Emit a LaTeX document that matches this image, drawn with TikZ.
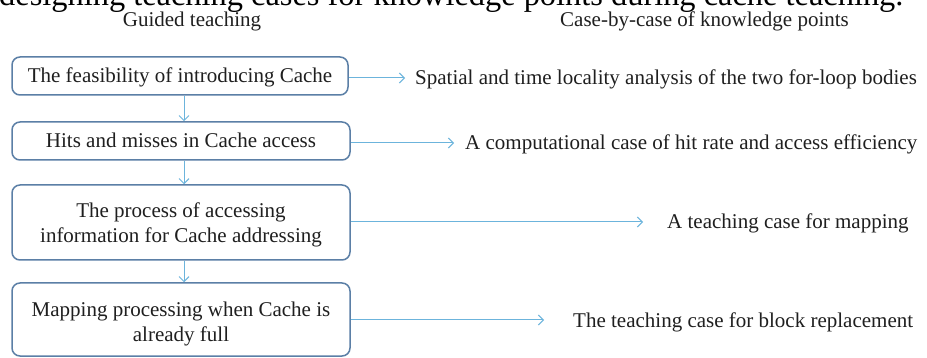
\documentclass[tikz,border=0pt]{standalone}
\usepackage{fontspec}
\setmainfont{Liberation Serif}
\usetikzlibrary{arrows.meta}
\definecolor{boxline}{HTML}{5B7FA6}
\definecolor{arrowline}{HTML}{6CB4DC}
\definecolor{txt}{HTML}{1F1F1F}

\begin{document}
\begin{tikzpicture}[x=1pt,y=-1pt,
  body/.style={font=\fontsize{21}{25}\selectfont, text=txt},
  stepbox/.style={body, draw=boxline, line width=1.5pt, rounded corners=8pt,
    inner sep=0pt, align=center, text depth=0pt},
  casetext/.style={body, anchor=west, inner sep=0pt, text height=14pt, text depth=0pt},
  heading/.style={body, inner sep=0pt},
  flow/.style={draw=arrowline, line width=1pt, -{Straight Barb[length=5pt,width=10pt]}},
]
\useasboundingbox (0,0) rectangle (927,358);
\fill[white] (0,0) rectangle (927,358);

% caption line running off the top edge
\begin{scope}
  \clip (0,0) rectangle (927,358);
  \node[anchor=base west, inner sep=0pt, font=\fontsize{32.4}{36}\selectfont] (caption)
    at (-1,5.5) {designing teaching cases for knowledge points during cache teaching.};
\end{scope}

% column headings
\node[heading, anchor=base] (h1) at (192,27) {Guided teaching};
\node[heading, anchor=base west] (h2) at (560,27) {Case-by-case of knowledge points};

% guided teaching steps (text height = full text block above the last baseline)
\node[stepbox, text height=14pt, minimum width=336pt, minimum height=38pt] (b1) at (180,76)
  {The feasibility of introducing Cache};
\node[stepbox, text height=14pt, minimum width=338pt, minimum height=38pt] (b2) at (181,141)
  {Hits and misses in Cache access};
\node[stepbox, text height=41pt, minimum width=338pt, minimum height=75pt] (b3) at (181,222.5)
  {The process of accessing\\information for Cache addressing};
\node[stepbox, text height=44pt, minimum width=338pt, minimum height=73pt] (b4) at (181,319.5)
  {Mapping processing when Cache is\\already full};

% knowledge-point cases
\node[casetext] (c1) at (415,78) {Spatial and time locality analysis of the two for-loop bodies};
\node[casetext] (c2) at (465,143) {A computational case of hit rate and access efficiency};
\node[casetext] (c3) at (667,222) {A teaching case for mapping};
\node[casetext] (c4) at (573,320) {The teaching case for block replacement};

% vertical flow between steps
\coordinate (spine) at (184,0);
\draw[flow] (b1.south -| spine) -- (b2.north -| spine);
\draw[flow] (b2.south -| spine) -- (b3.north -| spine);
\draw[flow] (b3.south -| spine) -- (b4.north -| spine);

% links from steps to cases
\draw[flow, shorten >=10pt] (b1.east |- c1.west) -- (c1.west);
\draw[flow, shorten >=11pt] (b2.east |- c2.west) -- (c2.west);
\draw[flow, shorten >=24pt] (b3.east |- c3.west) -- (c3.west);
\draw[flow, shorten >=29pt] (b4.east |- c4.west) -- (c4.west);
\end{tikzpicture}
\end{document}
